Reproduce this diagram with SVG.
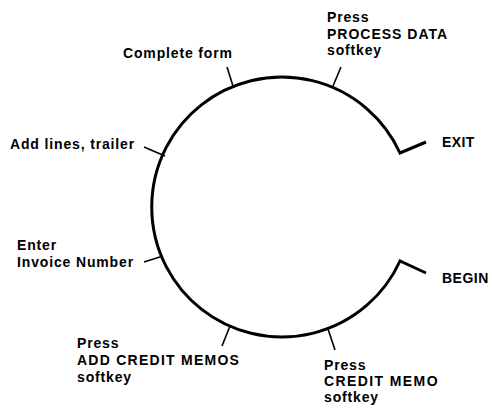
<svg xmlns="http://www.w3.org/2000/svg" width="492" height="409" viewBox="0 0 492 409">
<style>
.t{font-family:"Liberation Sans",Arial,sans-serif;font-weight:bold;font-size:14px;letter-spacing:0.85px;fill:#000}
.u{letter-spacing:1.25px}
.c{fill:none;stroke:#000;stroke-width:3;stroke-linecap:butt;stroke-linejoin:miter}
.k{fill:none;stroke:#000;stroke-width:1.6}
</style>
<rect width="492" height="409" fill="#fff"/>
<g id="connectors">
<path id="cycle" class="c" d="M426,142 L400,153 A130,130 0 1 0 400,261 L426,273"/>
<line class="k" x1="333" y1="86" x2="341" y2="67"/>
<line class="k" x1="233" y1="86" x2="227" y2="67"/>
<line class="k" x1="165" y1="156" x2="144" y2="147"/>
<line class="k" x1="163" y1="256" x2="144" y2="262"/>
<line class="k" x1="230" y1="326" x2="222" y2="346"/>
<line class="k" x1="328" y1="329" x2="335" y2="350"/>
</g>
<g id="exit"><text class="t" x="442" y="147" style="letter-spacing:0.4px">EXIT</text></g>
<g id="begin"><text class="t" x="442" y="283" style="letter-spacing:0.5px">BEGIN</text></g>
<g id="process-data"><text class="t" x="327" y="22">Press</text><text class="t" x="327" y="38.5" style="letter-spacing:1px">PROCESS DATA</text><text class="t" x="327" y="55">softkey</text></g>
<g id="complete-form"><text class="t" x="123" y="58">Complete form</text></g>
<g id="add-lines"><text class="t" x="10" y="149">Add lines, trailer</text></g>
<g id="enter-invoice"><text class="t" x="17" y="250">Enter</text><text class="t" x="17" y="267">Invoice Number</text></g>
<g id="add-credit-memos"><text class="t" x="77" y="348">Press</text><text class="t u" x="77" y="365">ADD CREDIT MEMOS</text><text class="t" x="77" y="382">softkey</text></g>
<g id="credit-memo"><text class="t" x="324" y="370">Press</text><text class="t" x="324" y="386" style="letter-spacing:1.4px">CREDIT MEMO</text><text class="t" x="324" y="402">softkey</text></g>
</svg>
